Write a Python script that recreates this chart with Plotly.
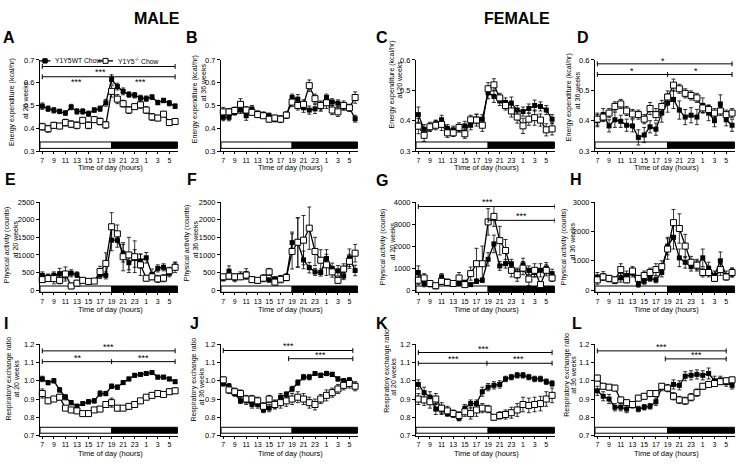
import plotly.graph_objects as go

W, H = 738, 466
FONT = "Liberation Sans, Arial, sans-serif"

# ---------------- data ----------------
HOURS = [str(h) for h in list(range(7, 24)) + list(range(0, 7))]
TICK_HOURS = ["7", "9", "11", "13", "15", "17", "19", "21", "23", "1", "3", "5"]

A_WT = [0.497,0.486,0.479,0.474,0.467,0.493,0.474,0.474,0.464,0.480,0.486,0.512,0.614,0.583,0.562,0.548,0.545,0.533,0.530,0.537,0.513,0.522,0.510,0.497]
A_KO = [0.407,0.398,0.413,0.410,0.425,0.418,0.413,0.435,0.413,0.438,0.430,0.415,0.562,0.528,0.508,0.480,0.495,0.503,0.480,0.450,0.445,0.462,0.425,0.430]
A_WT_ERR = [0.014,0.012,0.012,0.010,0.010,0.012,0.012,0.012,0.012,0.010,0.012,0.015,0.020,0.015,0.015,0.012,0.012,0.012,0.012,0.010,0.010,0.010,0.012,0.010]
A_KO_ERR = [0.015,0.015,0.013,0.012,0.015,0.015,0.015,0.012,0.015,0.012,0.015,0.015,0.025,0.020,0.015,0.015,0.012,0.015,0.015,0.015,0.012,0.012,0.012,0.012]

B_WT = [0.448,0.448,0.470,0.480,0.455,0.485,0.465,0.460,0.455,0.440,0.442,0.455,0.535,0.528,0.490,0.480,0.485,0.495,0.535,0.515,0.510,0.495,0.490,0.442]
B_KO = [0.472,0.472,0.478,0.505,0.480,0.470,0.460,0.455,0.440,0.445,0.440,0.458,0.515,0.500,0.505,0.587,0.530,0.500,0.512,0.480,0.472,0.500,0.490,0.535]
B_WT_ERR = [0.015,0.015,0.012,0.015,0.020,0.015,0.012,0.012,0.012,0.012,0.012,0.012,0.015,0.020,0.020,0.018,0.020,0.020,0.015,0.015,0.015,0.015,0.015,0.015]
B_KO_ERR = [0.020,0.015,0.015,0.025,0.015,0.012,0.012,0.012,0.012,0.012,0.015,0.015,0.020,0.020,0.020,0.025,0.020,0.020,0.025,0.020,0.020,0.020,0.015,0.025]

C_WT = [0.420,0.372,0.378,0.390,0.403,0.375,0.370,0.375,0.383,0.385,0.405,0.405,0.492,0.480,0.465,0.460,0.458,0.435,0.430,0.440,0.450,0.447,0.435,0.405]
C_KO = [0.382,0.352,0.380,0.385,0.388,0.360,0.360,0.378,0.357,0.403,0.402,0.385,0.505,0.518,0.475,0.450,0.432,0.412,0.383,0.405,0.410,0.402,0.370,0.373]
C_WT_ERR = [0.025,0.015,0.012,0.012,0.015,0.012,0.012,0.012,0.015,0.015,0.015,0.015,0.020,0.020,0.015,0.015,0.020,0.015,0.015,0.015,0.018,0.015,0.015,0.015]
C_KO_ERR = [0.025,0.020,0.015,0.015,0.020,0.015,0.012,0.015,0.015,0.015,0.020,0.020,0.020,0.020,0.015,0.015,0.020,0.020,0.025,0.020,0.025,0.020,0.020,0.020]

D_WT = [0.400,0.420,0.383,0.403,0.398,0.385,0.383,0.345,0.353,0.380,0.372,0.425,0.458,0.470,0.435,0.412,0.418,0.412,0.450,0.425,0.400,0.455,0.403,0.385]
D_KO = [0.405,0.412,0.425,0.447,0.455,0.432,0.422,0.420,0.405,0.440,0.420,0.447,0.478,0.517,0.505,0.490,0.483,0.475,0.442,0.437,0.425,0.432,0.420,0.425]
D_WT_ERR = [0.020,0.020,0.020,0.025,0.020,0.020,0.020,0.025,0.025,0.020,0.020,0.030,0.030,0.030,0.030,0.025,0.025,0.025,0.025,0.025,0.020,0.030,0.020,0.020]
D_KO_ERR = [0.020,0.015,0.015,0.015,0.015,0.015,0.015,0.015,0.015,0.020,0.020,0.020,0.020,0.020,0.015,0.015,0.015,0.015,0.015,0.015,0.015,0.015,0.015,0.015]

E_WT = [420,380,420,470,420,480,440,280,250,270,430,420,1420,1420,1050,780,900,830,920,450,620,650,480,680]
E_KO = [300,330,330,280,460,120,200,280,250,260,530,760,1800,1600,950,1000,950,720,340,380,320,340,550,650]
E_WT_ERR = [100,80,100,150,100,100,80,60,60,60,100,100,300,200,250,200,250,200,150,150,100,100,100,100]
E_KO_ERR = [80,80,150,100,200,80,80,60,60,60,150,300,400,250,400,500,450,300,80,80,100,100,100,150]

F_WT = [340,540,340,420,460,300,260,330,290,310,340,370,1350,1350,860,640,520,500,900,620,550,400,920,560]
F_KO = [380,400,380,380,430,300,280,340,520,230,310,360,1100,1360,1420,1760,1100,850,720,520,280,600,820,1050]
F_WT_ERR = [80,150,100,100,150,80,60,80,60,80,80,100,300,700,250,150,100,100,250,150,150,100,250,150]
F_KO_ERR = [60,100,80,80,100,80,80,100,100,80,100,80,500,700,700,600,400,300,300,150,80,150,200,250]

G_WT = [800,300,250,150,600,400,300,300,350,250,400,450,1400,2100,1100,1200,1200,750,1150,900,800,900,1000,750]
G_KO = [450,550,300,200,400,350,300,550,250,750,1200,1200,3100,3350,2250,1800,900,700,1000,500,900,250,900,550]
G_WT_ERR = [300,150,100,60,150,100,80,100,100,80,100,100,300,400,200,200,200,200,300,200,200,300,250,200]
G_KO_ERR = [200,200,100,60,150,100,100,250,100,300,700,800,600,450,650,500,300,300,300,300,300,100,250,150]

H_WT = [450,480,380,300,420,500,600,200,300,400,350,600,1500,1800,1100,950,800,850,1100,750,500,1000,500,600]
H_KO = [350,450,400,350,700,350,650,400,500,600,700,800,1400,2300,2100,1500,950,850,600,600,400,700,450,600]
H_WT_ERR = [150,150,100,80,150,150,150,100,100,100,100,150,300,400,300,200,150,150,300,200,150,300,150,150]
H_KO_ERR = [150,100,100,100,200,100,150,100,150,150,200,200,350,450,500,400,200,200,150,150,100,200,100,150]

I_WT = [1.010,0.990,1.000,0.950,0.910,0.880,0.860,0.875,0.885,0.890,0.930,0.930,0.970,0.965,0.990,1.010,1.030,1.035,1.040,1.045,1.020,1.020,1.010,0.995]
I_KO = [0.930,0.890,0.900,0.910,0.850,0.840,0.835,0.820,0.820,0.840,0.845,0.870,0.880,0.850,0.850,0.860,0.870,0.890,0.910,0.920,0.930,0.925,0.940,0.945]
I_WT_ERR = [0.015,0.012,0.012,0.012,0.015,0.012,0.012,0.010,0.012,0.012,0.015,0.012,0.012,0.012,0.010,0.010,0.010,0.010,0.010,0.008,0.010,0.010,0.010,0.010]
I_KO_ERR = [0.025,0.015,0.012,0.015,0.012,0.010,0.010,0.008,0.008,0.010,0.012,0.015,0.025,0.015,0.012,0.015,0.015,0.012,0.012,0.012,0.012,0.012,0.015,0.015]

J_WT = [0.985,0.970,0.930,0.890,0.890,0.870,0.870,0.840,0.850,0.870,0.910,0.925,0.955,0.990,1.020,1.020,1.040,1.030,1.040,1.035,1.010,1.000,1.005,0.975]
J_KO = [1.005,0.950,0.940,0.930,0.900,0.900,0.890,0.860,0.900,0.870,0.880,0.890,0.900,0.910,0.900,0.880,0.870,0.900,0.920,0.935,0.955,0.975,0.985,0.970]
J_WT_ERR = [0.015,0.015,0.015,0.015,0.020,0.020,0.020,0.015,0.020,0.020,0.020,0.015,0.015,0.015,0.015,0.015,0.010,0.012,0.012,0.012,0.012,0.012,0.012,0.012]
J_KO_ERR = [0.015,0.020,0.020,0.020,0.020,0.020,0.020,0.020,0.020,0.025,0.030,0.030,0.030,0.030,0.030,0.030,0.030,0.025,0.030,0.025,0.025,0.025,0.025,0.025]

K_WT = [0.980,0.935,0.910,0.845,0.840,0.820,0.815,0.795,0.850,0.875,0.875,0.940,0.965,0.975,0.980,1.010,1.020,1.030,1.030,1.020,1.010,1.010,0.995,0.985]
K_KO = [0.900,0.895,0.885,0.900,0.850,0.835,0.820,0.810,0.830,0.820,0.840,0.850,0.845,0.800,0.810,0.815,0.825,0.840,0.870,0.865,0.870,0.875,0.900,0.920]
K_WT_ERR = [0.025,0.030,0.030,0.030,0.025,0.015,0.015,0.015,0.020,0.020,0.020,0.025,0.020,0.020,0.020,0.015,0.015,0.015,0.015,0.015,0.015,0.015,0.015,0.015]
K_KO_ERR = [0.030,0.030,0.035,0.030,0.030,0.025,0.020,0.020,0.025,0.030,0.035,0.025,0.020,0.015,0.020,0.025,0.030,0.035,0.040,0.040,0.040,0.040,0.040,0.040]

L_WT = [0.945,0.915,0.900,0.855,0.855,0.845,0.865,0.845,0.855,0.860,0.885,0.965,0.960,0.980,0.975,1.025,1.030,1.035,1.030,1.040,1.000,1.005,0.990,0.975]
L_KO = [1.015,0.970,0.965,0.960,0.895,0.880,0.870,0.905,0.915,0.930,0.930,0.970,0.960,0.915,0.895,0.890,0.910,0.935,0.970,0.980,0.985,0.995,1.000,1.005]
L_WT_ERR = [0.025,0.025,0.025,0.020,0.020,0.020,0.015,0.015,0.015,0.015,0.020,0.020,0.020,0.025,0.025,0.025,0.025,0.025,0.025,0.030,0.025,0.020,0.020,0.020]
L_KO_ERR = [0.015,0.015,0.015,0.015,0.015,0.015,0.015,0.015,0.015,0.015,0.015,0.015,0.015,0.020,0.020,0.020,0.020,0.020,0.015,0.015,0.015,0.015,0.015,0.015]

EE_TITLE = "Energy expenditure (kcal/hr)"
PA_TITLE = "Physical activity (counts)"
RER_TITLE = "Respiratory exchange ratio"

# significance brackets: (x0, x1, y, split points) and labels (x, y, text)
BRACKETS = {
    "A": [(0, 23, 0.671, []), (0, 23, 0.626, [12])],
    "D": [(0, 23, 0.587, []), (0, 23, 0.552, [12])],
    "G": [(0, 23.5, 3800, []), (12, 23.5, 3170, [])],
    "I": [(0, 23, 1.164, []), (0, 23, 1.105, [12])],
    "J": [(0, 22.6, 1.166, []), (11.4, 22.6, 1.121, [])],
    "K": [(0, 23, 1.155, []), (0, 23, 1.096, [11.8])],
    "L": [(0, 22, 1.164, []), (11.6, 22, 1.12, [])],
}
STARS = {
    "A": [(10, 0.648, "***"), (6, 0.603, "***"), (17, 0.603, "***")],
    "D": [(11.2, 0.598, "*"), (6, 0.562, "*"), (16.8, 0.562, "*")],
    "G": [(11.9, 4000, "***"), (17.8, 3380, "***")],
    "I": [(11.5, 1.184, "***"), (6.2, 1.126, "**"), (17.5, 1.126, "***")],
    "J": [(11.3, 1.188, "***"), (17, 1.141, "***")],
    "K": [(11.2, 1.176, "***"), (6.1, 1.117, "***"), (17.2, 1.117, "***")],
    "L": [(11, 1.186, "***"), (16.9, 1.141, "***")],
}

# ---------------- layout geometry (pixels) ----------------
COL_X = [(40, 178), (221, 358), (416, 555), (595, 735)]
ROW_Y = [(57, 150), (202, 294), (347, 440)]
BAR_FRAC = [(0.03, 0.10), (0.0, 0.07), (0.025, 0.09)]
XR = (-0.4, 23.5)
LIGHT_END = 12  # 19 h

PANELS = [
    dict(k="A", r=0, c=0, wt=A_WT, we=A_WT_ERR, ko=A_KO, ke=A_KO_ERR, yr=(0.3, 0.7), dt=0.1, fmt=".1f", t1=EE_TITLE, t2="at 20 weeks",
         l1=(12, 100), l2=(25, 98)),
    dict(k="B", r=0, c=1, wt=B_WT, we=B_WT_ERR, ko=B_KO, ke=B_KO_ERR, yr=(0.3, 0.7), dt=0.1, fmt=".1f", t1=EE_TITLE, t2="at 36 weeks",
         l1=(195, 97), l2=(203, 80)),
    dict(k="C", r=0, c=2, wt=C_WT, we=C_WT_ERR, ko=C_KO, ke=C_KO_ERR, yr=(0.3, 0.6), dt=0.1, fmt=".1f", t1=EE_TITLE, t2="at 20 weeks",
         l1=(392, 82), l2=(400, 77)),
    dict(k="D", r=0, c=3, wt=D_WT, we=D_WT_ERR, ko=D_KO, ke=D_KO_ERR, yr=(0.3, 0.6), dt=0.1, fmt=".1f", t1=EE_TITLE, t2="at 36 weeks",
         l1=(569, 95), l2=(577, 88)),
    dict(k="E", r=1, c=0, wt=E_WT, we=E_WT_ERR, ko=E_KO, ke=E_KO_ERR, yr=(-60, 2500), dt=500, fmt="d", t1=PA_TITLE, t2="at 20 weeks",
         l1=(7, 246), l2=(15, 240)),
    dict(k="F", r=1, c=1, wt=F_WT, we=F_WT_ERR, ko=F_KO, ke=F_KO_ERR, yr=(-60, 2500), dt=500, fmt="d", t1=PA_TITLE, t2="at 36 weeks",
         l1=(187, 244), l2=(195, 240)),
    dict(k="G", r=1, c=2, wt=G_WT, we=G_WT_ERR, ko=G_KO, ke=G_KO_ERR, yr=(-100, 4000), dt=1000, fmt="d", t1=PA_TITLE, t2="at 20 weeks",
         l1=(383, 248), l2=(392, 242)),
    dict(k="H", r=1, c=3, wt=H_WT, we=H_WT_ERR, ko=H_KO, ke=H_KO_ERR, yr=(-75, 3000), dt=1000, fmt="d", t1=PA_TITLE, t2="at 36 weeks",
         l1=(564, 248), l2=(572, 242)),
    dict(k="I", r=2, c=0, wt=I_WT, we=I_WT_ERR, ko=I_KO, ke=I_KO_ERR, yr=(0.7, 1.2), dt=0.1, fmt=".1f", t1=RER_TITLE, t2="at 20 weeks",
         l1=(9, 382), l2=(17, 382)),
    dict(k="J", r=2, c=1, wt=J_WT, we=J_WT_ERR, ko=J_KO, ke=J_KO_ERR, yr=(0.7, 1.2), dt=0.1, fmt=".1f", t1=RER_TITLE, t2="at 36 weeks",
         l1=(194, 383), l2=(201, 390)),
    dict(k="K", r=2, c=2, wt=K_WT, we=K_WT_ERR, ko=K_KO, ke=K_KO_ERR, yr=(0.7, 1.2), dt=0.1, fmt=".1f", t1=RER_TITLE, t2="at 20 weeks",
         l1=(387, 374), l2=(394, 380)),
    dict(k="L", r=2, c=3, wt=L_WT, we=L_WT_ERR, ko=L_KO, ke=L_KO_ERR, yr=(0.7, 1.2), dt=0.1, fmt=".1f", t1=RER_TITLE, t2="at 36 weeks",
         l1=(567, 378), l2=(574, 378)),
]

LETTER_POS = {"A": (9, 34), "B": (192, 34), "C": (382, 34), "D": (583, 34),
              "E": (10, 179), "F": (192, 179), "G": (382, 180), "H": (576, 179),
              "I": (6, 326), "J": (194, 326), "K": (382, 326), "L": (577, 326)}
XTITLE_Y = [167, 312, 458]


def px(xp):
    return xp / W


def py(yp):
    return 1 - yp / H


fig = go.Figure()
shapes, annotations = [], []
layout = dict(width=W, height=H, margin=dict(l=0, r=0, t=0, b=0), autosize=False,
              paper_bgcolor="white", plot_bgcolor="rgba(0,0,0,0)", showlegend=False,
              font=dict(family=FONT, size=8, color="black"))

for n, p in enumerate(PANELS, start=1):
    sfx = "" if n == 1 else str(n)
    xa, ya = "x" + sfx, "y" + sfx
    cx0, cx1 = COL_X[p["c"]]
    ry0, ry1 = ROW_Y[p["r"]]
    y0, y1 = p["yr"]
    top = y1
    base = 0 if p["r"] == 1 else y0
    layout["xaxis" + sfx] = dict(domain=[px(cx0), px(cx1)], anchor=ya, type="category",
                                 range=list(XR), tickmode="array", tickvals=TICK_HOURS, ticktext=TICK_HOURS,
                                 showline=True, linecolor="black", linewidth=1, ticks="outside", ticklen=2,
                                 tickwidth=1, tickcolor="black", tickfont=dict(size=7, family=FONT),
                                 ticklabeloverflow="allow",
                                 showgrid=False, zeroline=False, fixedrange=True)
    tickv = []
    v = base
    while v <= top + 1e-9:
        tickv.append(round(v, 4))
        v += p["dt"]
    layout["yaxis" + sfx] = dict(domain=[py(ry1), py(ry0)], anchor=xa, range=[y0, y1],
                                 tickmode="array", tickvals=tickv,
                                 ticktext=[format(t, p["fmt"]) if p["fmt"] != "d" else str(int(t)) for t in tickv],
                                 showline=True, linecolor="black", linewidth=1, ticks="outside", ticklen=3,
                                 tickwidth=1, tickcolor="black", tickfont=dict(size=7.5, family=FONT),
                                 ticklabeloverflow="allow",
                                 showgrid=False, zeroline=False, fixedrange=True)

    # traces
    fig.add_trace(go.Scatter(x=HOURS, y=p["wt"], xaxis=xa, yaxis=ya, mode="lines+markers",
                             line=dict(color="black", width=1.3),
                             marker=dict(symbol="square", size=5, color="black"),
                             error_y=dict(type="data", array=p["we"], visible=True, color="black", thickness=0.8, width=2),
                             cliponaxis=False, name="Y1Y5WT Chow"))
    fig.add_trace(go.Scatter(x=HOURS, y=p["ko"], xaxis=xa, yaxis=ya, mode="lines+markers",
                             line=dict(color="black", width=1.3),
                             marker=dict(symbol="square", size=6, color="white", line=dict(color="black", width=1)),
                             error_y=dict(type="data", array=p["ke"], visible=True, color="black", thickness=0.8, width=2),
                             cliponaxis=False, name="Y1Y5-/- Chow"))

    # light / dark bar
    bf0, bf1 = BAR_FRAC[p["r"]]
    shapes.append(dict(type="rect", xref=xa, yref=ya + " domain", x0=XR[0], x1=LIGHT_END, y0=bf0, y1=bf1,
                       fillcolor="white", line=dict(color="black", width=1), layer="below"))
    shapes.append(dict(type="rect", xref=xa, yref=ya + " domain", x0=LIGHT_END, x1=XR[1] - 0.1, y0=bf0, y1=bf1,
                       fillcolor="black", line=dict(color="black", width=1), layer="below"))

    # brackets
    cap = 2.5 / (ry1 - ry0) * (y1 - y0)
    for (bx0, bx1, by, splits) in BRACKETS.get(p["k"], []):
        shapes.append(dict(type="line", xref=xa, yref=ya, x0=bx0, x1=bx1, y0=by, y1=by,
                           line=dict(color="black", width=1)))
        for cxp in [bx0, bx1] + splits:
            shapes.append(dict(type="line", xref=xa, yref=ya, x0=cxp, x1=cxp, y0=by - cap, y1=by + cap,
                               line=dict(color="black", width=1)))
    for (sx, sy, st) in STARS.get(p["k"], []):
        annotations.append(dict(x=sx, y=sy, xref=xa, yref=ya, text=st, showarrow=False,
                                font=dict(size=9, family=FONT), xanchor="center", yanchor="middle"))

    # y-axis titles
    for (txt, pos) in [(p["t1"], p["l1"]), (p["t2"], p["l2"])]:
        annotations.append(dict(x=px(pos[0]), y=py(pos[1]), xref="paper", yref="paper", text=txt,
                                textangle=-90, showarrow=False, font=dict(size=7, family=FONT),
                                xanchor="center", yanchor="middle"))
    # x-axis title
    xc = (cx0 + 2 + cx1) / 2
    annotations.append(dict(x=px(xc), y=py(XTITLE_Y[p["r"]]), xref="paper", yref="paper",
                            text="Time of day (hours)", showarrow=False, font=dict(size=7.5, family=FONT),
                            xanchor="center", yanchor="middle"))
    # panel letter
    lx, ly = LETTER_POS[p["k"]]
    annotations.append(dict(x=px(lx), y=py(ly), xref="paper", yref="paper", text="<b>%s</b>" % p["k"],
                            showarrow=False, font=dict(size=16, family=FONT), xanchor="center", yanchor="middle"))

# column headers
annotations.append(dict(x=px(157), y=py(15), xref="paper", yref="paper", text="<b>MALE</b>", showarrow=False,
                        font=dict(size=16, family=FONT), xanchor="center", yanchor="middle"))
annotations.append(dict(x=px(517), y=py(15), xref="paper", yref="paper", text="<b>FEMALE</b>", showarrow=False,
                        font=dict(size=16, family=FONT), xanchor="center", yanchor="middle"))

# legend (panel A)
LEG_Y = 58
shapes.append(dict(type="line", xref="paper", yref="paper", x0=px(39.5), x1=px(50.5), y0=py(LEG_Y), y1=py(LEG_Y),
                   line=dict(color="black", width=1.3)))
shapes.append(dict(type="rect", xref="paper", yref="paper", x0=px(42.8), x1=px(47.2), y0=py(LEG_Y + 2.2), y1=py(LEG_Y - 2.2),
                   fillcolor="black", line=dict(color="black", width=1)))
annotations.append(dict(x=px(53), y=py(LEG_Y), xref="paper", yref="paper", text="Y1Y5WT Chow", showarrow=False,
                        font=dict(size=6.8, family=FONT), xanchor="left", yanchor="middle"))
shapes.append(dict(type="line", xref="paper", yref="paper", x0=px(98), x1=px(113), y0=py(LEG_Y), y1=py(LEG_Y),
                   line=dict(color="black", width=1.3)))
shapes.append(dict(type="rect", xref="paper", yref="paper", x0=px(103), x1=px(108), y0=py(LEG_Y + 2.5), y1=py(LEG_Y - 2.5),
                   fillcolor="white", line=dict(color="black", width=1)))
annotations.append(dict(x=px(116), y=py(LEG_Y), xref="paper", yref="paper", text="Y1Y5<sup>-/-</sup> Chow",
                        showarrow=False, font=dict(size=6.8, family=FONT), xanchor="left", yanchor="middle"))

layout["shapes"] = shapes
layout["annotations"] = annotations
fig.update_layout(**layout)
fig.write_html("out.html", config={"displayModeBar": False},
               post_script="document.body.style.margin='0';document.body.style.padding='0';")
